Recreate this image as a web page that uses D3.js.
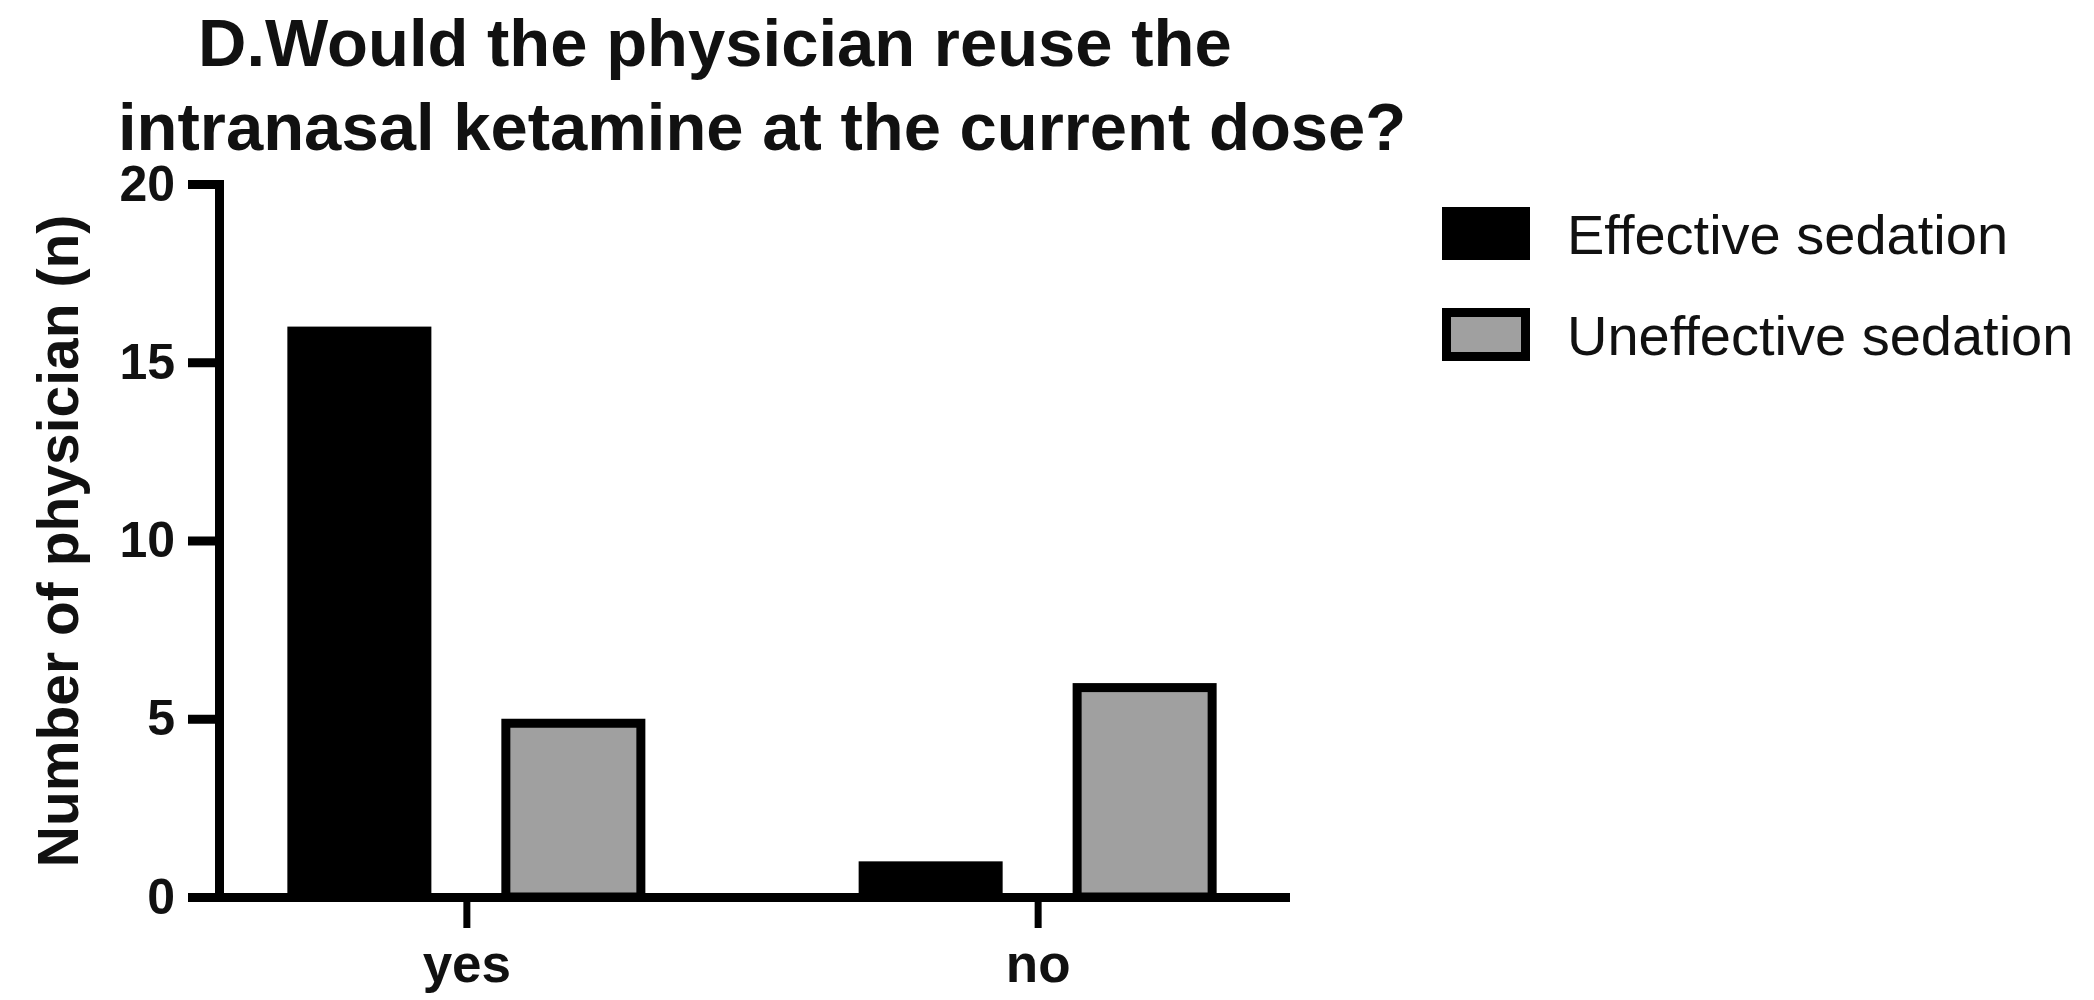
<!DOCTYPE html>
<html>
<head>
<meta charset="utf-8">
<script src="https://cdn.jsdelivr.net/npm/d3@7"></script>
<style>
  html, body { margin: 0; padding: 0; background: #ffffff; }
  svg { display: block; }
  text { font-family: "Liberation Sans", Arial, Helvetica, sans-serif; fill: #111; }
</style>
</head>
<body>
<svg id="chart" width="2094" height="1000"></svg>
<script>
// Answers on the x axis
const categories = ["yes", "no"];
// Series (sedation outcome) and counts per answer
const seriesNames = ["Effective sedation", "Uneffective sedation"];
const effectiveCounts = [16, 1];
const uneffectiveCounts = [5, 6];
const yTicks = [0, 5, 10, 15, 20];
const titleLines = ["D.Would the physician reuse the", "intranasal ketamine at the current dose?"];
const yLabel = "Number of physician (n)";

const seriesValues = [effectiveCounts, uneffectiveCounts];
const seriesFill = ["#000000", "#a0a0a0"];
const sw = 9; // outline width of bars, axes and swatches

const svg = d3.select("#chart");

// Scales
const y = d3.scaleLinear().domain([0, 20]).range([897, 184]);
const x = d3.scalePoint().domain(categories).range([219, 1285]).padding(0.433);
const inner = d3.scaleBand().domain(seriesNames).range([-179, 179]).paddingInner(0.327);

// Title
const title = svg.append("text")
  .attr("font-size", 67).attr("font-weight", "bold");
title.append("tspan").attr("x", 198).attr("y", 66).text(titleLines[0]);
title.append("tspan").attr("x", 118).attr("y", 150).text(titleLines[1]);

// Bars
const rows = [];
categories.forEach((c, i) => {
  seriesNames.forEach((s, j) => rows.push({ cat: c, series: s, j, value: seriesValues[j][i] }));
});
svg.append("g").selectAll("rect").data(rows).join("rect")
  .attr("x", d => x(d.cat) + inner(d.series) + sw / 2)
  .attr("width", inner.bandwidth() - sw)
  .attr("y", d => y(d.value) + sw / 2)
  .attr("height", d => y(0) - y(d.value) - sw / 2)
  .attr("fill", d => seriesFill[d.j])
  .attr("stroke", "#000").attr("stroke-width", sw);

// Y axis
const yAxis = svg.append("g").attr("transform", "translate(219,0)")
  .call(d3.axisLeft(y).tickValues(yTicks).tickSize(31).tickSizeOuter(0).tickPadding(13));
// X axis
const xAxis = svg.append("g").attr("transform", "translate(0,897)")
  .call(d3.axisBottom(x).tickSize(31).tickSizeOuter(0).tickPadding(12));

[yAxis, xAxis].forEach(g => {
  g.select(".domain").attr("stroke", "#000").attr("stroke-width", sw).attr("stroke-linecap", "square");
  g.selectAll(".tick line").attr("stroke", "#000");
});
yAxis.selectAll(".tick line").attr("stroke-width", sw);
xAxis.selectAll(".tick line").attr("stroke-width", 7);
yAxis.selectAll(".tick text")
  .attr("font-size", 50).attr("font-weight", "bold").attr("fill", "#111")
  .attr("font-family", "Liberation Sans, Arial, sans-serif");
xAxis.selectAll(".tick text")
  .attr("font-size", 53).attr("font-weight", "bold").attr("fill", "#111")
  .attr("font-family", "Liberation Sans, Arial, sans-serif")
  .attr("dy", "0.8em");

// Y axis title
svg.append("text")
  .attr("transform", "translate(78,541) rotate(-90)")
  .attr("text-anchor", "middle")
  .attr("font-size", 57).attr("font-weight", "bold")
  .text(yLabel);

// Legend
const legend = svg.append("g").selectAll("g").data(seriesNames).join("g")
  .attr("transform", (d, i) => `translate(1442,${207 + i * 101})`);
legend.append("rect")
  .attr("x", sw / 2).attr("y", sw / 2)
  .attr("width", 88 - sw).attr("height", 53 - sw)
  .attr("fill", (d, i) => seriesFill[i])
  .attr("stroke", "#000").attr("stroke-width", sw);
legend.append("text")
  .attr("x", 125).attr("y", 47)
  .attr("font-size", 56).attr("fill", "#1a1a1a")
  .text(d => d);
</script>
</body>
</html>
